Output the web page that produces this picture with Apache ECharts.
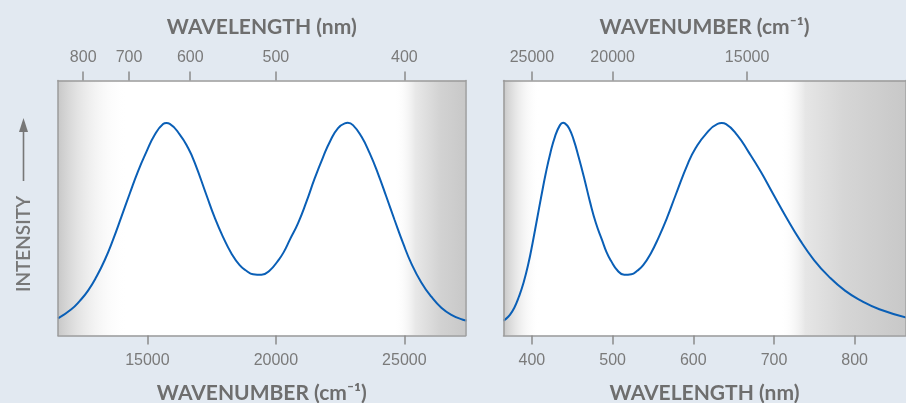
<!DOCTYPE html>
<html>
<head>
<meta charset="utf-8">
<script src="https://cdn.jsdelivr.net/npm/echarts@6/dist/echarts.min.js"></script>
<style>
html,body{margin:0;padding:0;background:#e2e9f1;}
#chart{width:906px;height:403px;}
</style>
</head>
<body>
<div id="chart"></div>
<script>
// Spectrum (x in cm^-1, intensity in arbitrary units 0..100 of panel height)
const wavenumber = [11520, 12040, 12370, 12690, 13020, 13340, 13660, 13990, 14310, 14630, 14960, 15280, 15610, 15740, 15870, 16260, 16580, 16840, 17300, 17620, 17940, 18270, 18590, 18850, 19110, 19440, 19760, 20080, 20300, 20540, 20860, 21190, 21510, 21830, 22130, 22420, 22680, 22800, 23000, 23330, 23650, 23970, 24300, 24620, 24950, 25270, 25660, 26050, 26440, 26830, 27280, 27420];
const intensity  = [6.7, 10.3, 13.6, 17.6, 23.1, 29.6, 37.5, 46.6, 55.6, 64.3, 72.0, 78.6, 82.9, 83.3, 83.0, 78.8, 73.6, 67.8, 55.0, 46.2, 38.7, 32.2, 27.6, 25.4, 24.0, 23.8, 25.5, 29.3, 32.6, 37.5, 44.0, 52.5, 61.6, 69.8, 76.6, 81.3, 83.2, 83.4, 82.5, 78.0, 71.5, 63.6, 54.4, 45.3, 36.2, 28.3, 20.8, 15.2, 10.9, 8.1, 6.2, 5.9];

// Tick labels
const leftBottomTicks = [15000, 20000, 25000];        // cm^-1
const leftTopTicks = [800, 700, 600, 500, 400];        // nm
const rightBottomTicks = [400, 500, 600, 700, 800];    // nm
const rightTopTicks = [25000, 20000, 15000];           // cm^-1

const TEXT_GRAY = '#7a7a7a';
const TITLE_GRAY = '#6e6e6e';
const FRAME = '#9b9b9b';
const LINE_BLUE = '#0a5fb6';
const SHADE = '#c8c8c8';

const leftRange = [11520, 27380];   // cm^-1
const rightRange = [364.8, 863.0];  // nm

const toNm = v => 1e7 / v;

const leftData = wavenumber.map((w, i) => [w, intensity[i]]);
const rightData = wavenumber.map((w, i) => [toNm(w), intensity[i]]).reverse();

const chart = echarts.init(document.getElementById('chart'), null, {renderer: 'canvas'});

const tickLabelStyle = {color: TEXT_GRAY, fontSize: 16, fontFamily: 'Liberation Sans, Arial, sans-serif'};
const nameStyle = {color: TITLE_GRAY, fontSize: 21, fontWeight: 'bold', fontFamily: 'Lato, sans-serif'};

function xAxisDef(gridIndex, position, range, tickVals, fmt, name, labelMargin, nameGap) {
  return {
    type: 'value', gridIndex, position, min: range[0], max: range[1], z: 10,
    name, nameLocation: 'middle', nameGap, nameTextStyle: nameStyle,
    axisLine: {show: true, onZero: false, lineStyle: {color: FRAME, width: 1.5}},
    axisTick: {show: true, inside: false, length: 9, customValues: tickVals, lineStyle: {color: '#8a8a8a', width: 1.5}},
    axisLabel: Object.assign({show: true, margin: labelMargin, customValues: tickVals, formatter: fmt}, tickLabelStyle),
    splitLine: {show: false}
  };
}
function yAxisDef(gridIndex, position) {
  return {
    type: 'value', gridIndex, position, min: 0, max: 100, z: 10,
    axisLine: {show: true, onZero: false, lineStyle: {color: FRAME, width: 1.5}},
    axisTick: {show: false}, axisLabel: {show: false}, splitLine: {show: false}
  };
}
function grad(stops) {
  return new echarts.graphic.LinearGradient(0, 0, 1, 0, stops);
}

const option = {
  backgroundColor: '#e2e9f1',
  animation: false,
  grid: [
    {left: 58, top: 80.5, width: 407.5, height: 255, show: true, backgroundColor: '#ffffff', borderWidth: 0, containLabel: false, outerBoundsMode: 'none'},
    {left: 503.5, top: 80.5, width: 402, height: 255, show: true, backgroundColor: '#ffffff', borderWidth: 0, containLabel: false, outerBoundsMode: 'none'}
  ],
  xAxis: [
    xAxisDef(0, 'bottom', leftRange, leftBottomTicks, v => String(Math.round(v)), 'WAVENUMBER (cm⁻¹)', 17, 47),
    xAxisDef(0, 'top', leftRange, leftTopTicks.map(n => 1e7 / n), v => String(Math.round(1e7 / v)), 'WAVELENGTH (nm)', 14.5, 43),
    xAxisDef(1, 'bottom', rightRange, rightBottomTicks, v => String(Math.round(v)), 'WAVELENGTH (nm)', 17, 47),
    xAxisDef(1, 'top', rightRange, rightTopTicks.map(c => 1e7 / c), v => String(Math.round(1e7 / v)), 'WAVENUMBER (cm⁻¹)', 14.5, 43)
  ],
  yAxis: [
    yAxisDef(0, 'left'), yAxisDef(0, 'right'),
    yAxisDef(1, 'left'), yAxisDef(1, 'right')
  ],
  series: [
    {
      type: 'line', xAxisIndex: 0, yAxisIndex: 0, data: [], z: 1, silent: true,
      markArea: {silent: true, data: [
        [{xAxis: leftRange[0], itemStyle: {color: grad([{offset: 0, color: SHADE}, {offset: 1, color: 'rgba(255,255,255,0)'}])}}, {xAxis: 14200}],
        [{xAxis: 24600, itemStyle: {color: grad([{offset: 0, color: 'rgba(255,255,255,0)'}, {offset: 0.3, color: '#e8e8e8'}, {offset: 0.65, color: '#d2d2d2'}, {offset: 1, color: SHADE}])}}, {xAxis: leftRange[1]}]
      ]}
    },
    {
      type: 'line', xAxisIndex: 2, yAxisIndex: 2, data: [], z: 1, silent: true,
      markArea: {silent: true, data: [
        [{xAxis: rightRange[0], itemStyle: {color: grad([{offset: 0, color: SHADE}, {offset: 1, color: 'rgba(255,255,255,0)'}])}}, {xAxis: 410}],
        [{xAxis: 708, itemStyle: {color: grad([{offset: 0, color: 'rgba(255,255,255,0)'}, {offset: 0.2, color: '#e6e6e6'}, {offset: 0.5, color: '#d6d6d6'}, {offset: 1, color: SHADE}])}}, {xAxis: rightRange[1]}]
      ]}
    },
    {
      type: 'line', xAxisIndex: 0, yAxisIndex: 0, data: leftData, z: 2,
      showSymbol: false, smooth: 0.5, lineStyle: {color: LINE_BLUE, width: 2}, clip: true
    },
    {
      type: 'line', xAxisIndex: 2, yAxisIndex: 2, data: rightData, z: 2,
      showSymbol: false, smooth: 0.5, lineStyle: {color: LINE_BLUE, width: 2}, clip: true
    }
  ],
  graphic: [
    {
      type: 'text', x: 23.5, y: 244, rotation: Math.PI / 2,
      style: {text: 'INTENSITY', fill: '#777777', font: '600 19px Lato, sans-serif', textAlign: 'center', textVerticalAlign: 'middle'}
    },
    {type: 'line', shape: {x1: 23.5, y1: 181, x2: 23.5, y2: 128}, style: {stroke: '#777777', lineWidth: 1.6}},
    {type: 'polygon', shape: {points: [[23.5, 118], [19, 132], [28, 132]]}, style: {fill: '#777777'}}
  ]
};
chart.setOption(option);
</script>
</body>
</html>
